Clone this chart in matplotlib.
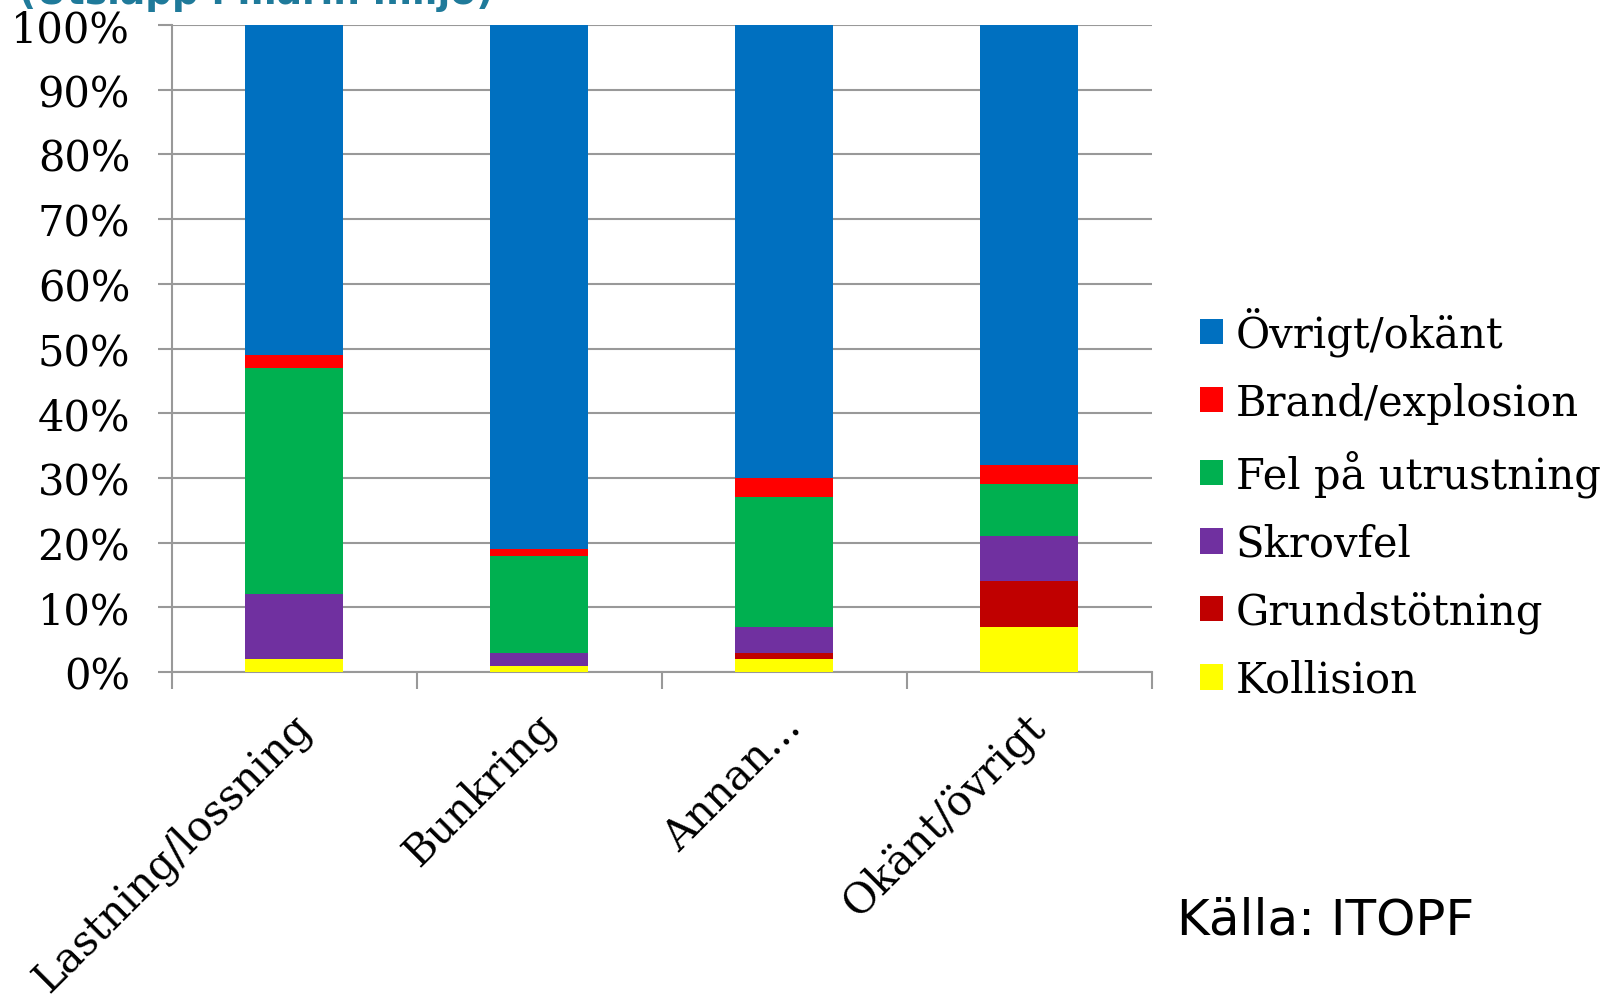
import numpy as np
import matplotlib.pyplot as plt

plt.rcParams['font.family'] = ['DejaVu Serif']

# Data (procent per orsak och verksamhet)
kategorier = ['Lastning/lossning', 'Bunkring', 'Annan...', 'Okänt/övrigt']
kollision = [2, 1, 2, 7]
grundstotning = [0, 0, 1, 7]
skrovfel = [10, 2, 4, 7]
fel_utrustning = [35, 15, 20, 8]
brand = [2, 1, 3, 3]
ovrigt = [51, 81, 70, 68]

serier = [
    ('Kollision', kollision, '#FFFF00'),
    ('Grundstötning', grundstotning, '#C00000'),
    ('Skrovfel', skrovfel, '#7030A0'),
    ('Fel på utrustning', fel_utrustning, '#00B050'),
    ('Brand/explosion', brand, '#FF0000'),
    ('Övrigt/okänt', ovrigt, '#0070C0'),
]

fig = plt.figure(figsize=(16.06, 10.03), dpi=100)
ax = fig.add_axes([0.107, 0.329, 0.610, 0.645])

x = np.arange(len(kategorier))
bottom = np.zeros(len(kategorier))
handles = []
for namn, vals, farg in serier:
    b = ax.bar(x, vals, 0.4, bottom=bottom, color=farg, label=namn, zorder=3)
    handles.append(b)
    bottom += np.array(vals)

ax.set_xlim(-0.5, 3.5)
ax.set_ylim(0, 100)
ax.set_yticks(np.arange(0, 101, 10))
ax.set_yticklabels([f'{v}%' for v in range(0, 101, 10)], fontsize=30)
ax.yaxis.grid(True, color='#999999', linewidth=1.5, zorder=0)
ax.tick_params(axis='y', length=10, width=1.5, color='#999999', pad=20)

# kategorietiketter mellan tickstreck
ax.set_xticks(np.arange(-0.5, 4, 1))
ax.set_xticklabels([])
ax.tick_params(axis='x', length=12, width=1.5, color='#999999')
for i, k in enumerate(kategorier):
    ax.text(i - 0.02, -5, k, rotation=45, ha='right', va='top',
            rotation_mode='anchor', fontsize=30, transform=ax.transData)

for s in ['top', 'right']:
    ax.spines[s].set_visible(False)
ax.spines['left'].set_color('#999999')
ax.spines['bottom'].set_color('#999999')
ax.spines['left'].set_linewidth(1.5)
ax.spines['bottom'].set_linewidth(1.5)

leg = fig.legend(handles[::-1], [s[0] for s in serier][::-1],
                 loc='center left', bbox_to_anchor=(0.747, 0.497),
                 frameon=False, fontsize=30, handlelength=0.56,
                 handleheight=0.56, handletextpad=0.3, labelspacing=0.62,
                 borderaxespad=0, borderpad=0)

fig.text(0.733, 0.068, 'Källa: ITOPF', fontsize=36, family='DejaVu Sans')
fig.text(0.012, 1.006, '(Utsläpp i marin miljö)', fontsize=27, color='#1F7A9A',
         fontweight='bold', family='DejaVu Sans', va='center')

fig.savefig('out.png', dpi=100)
